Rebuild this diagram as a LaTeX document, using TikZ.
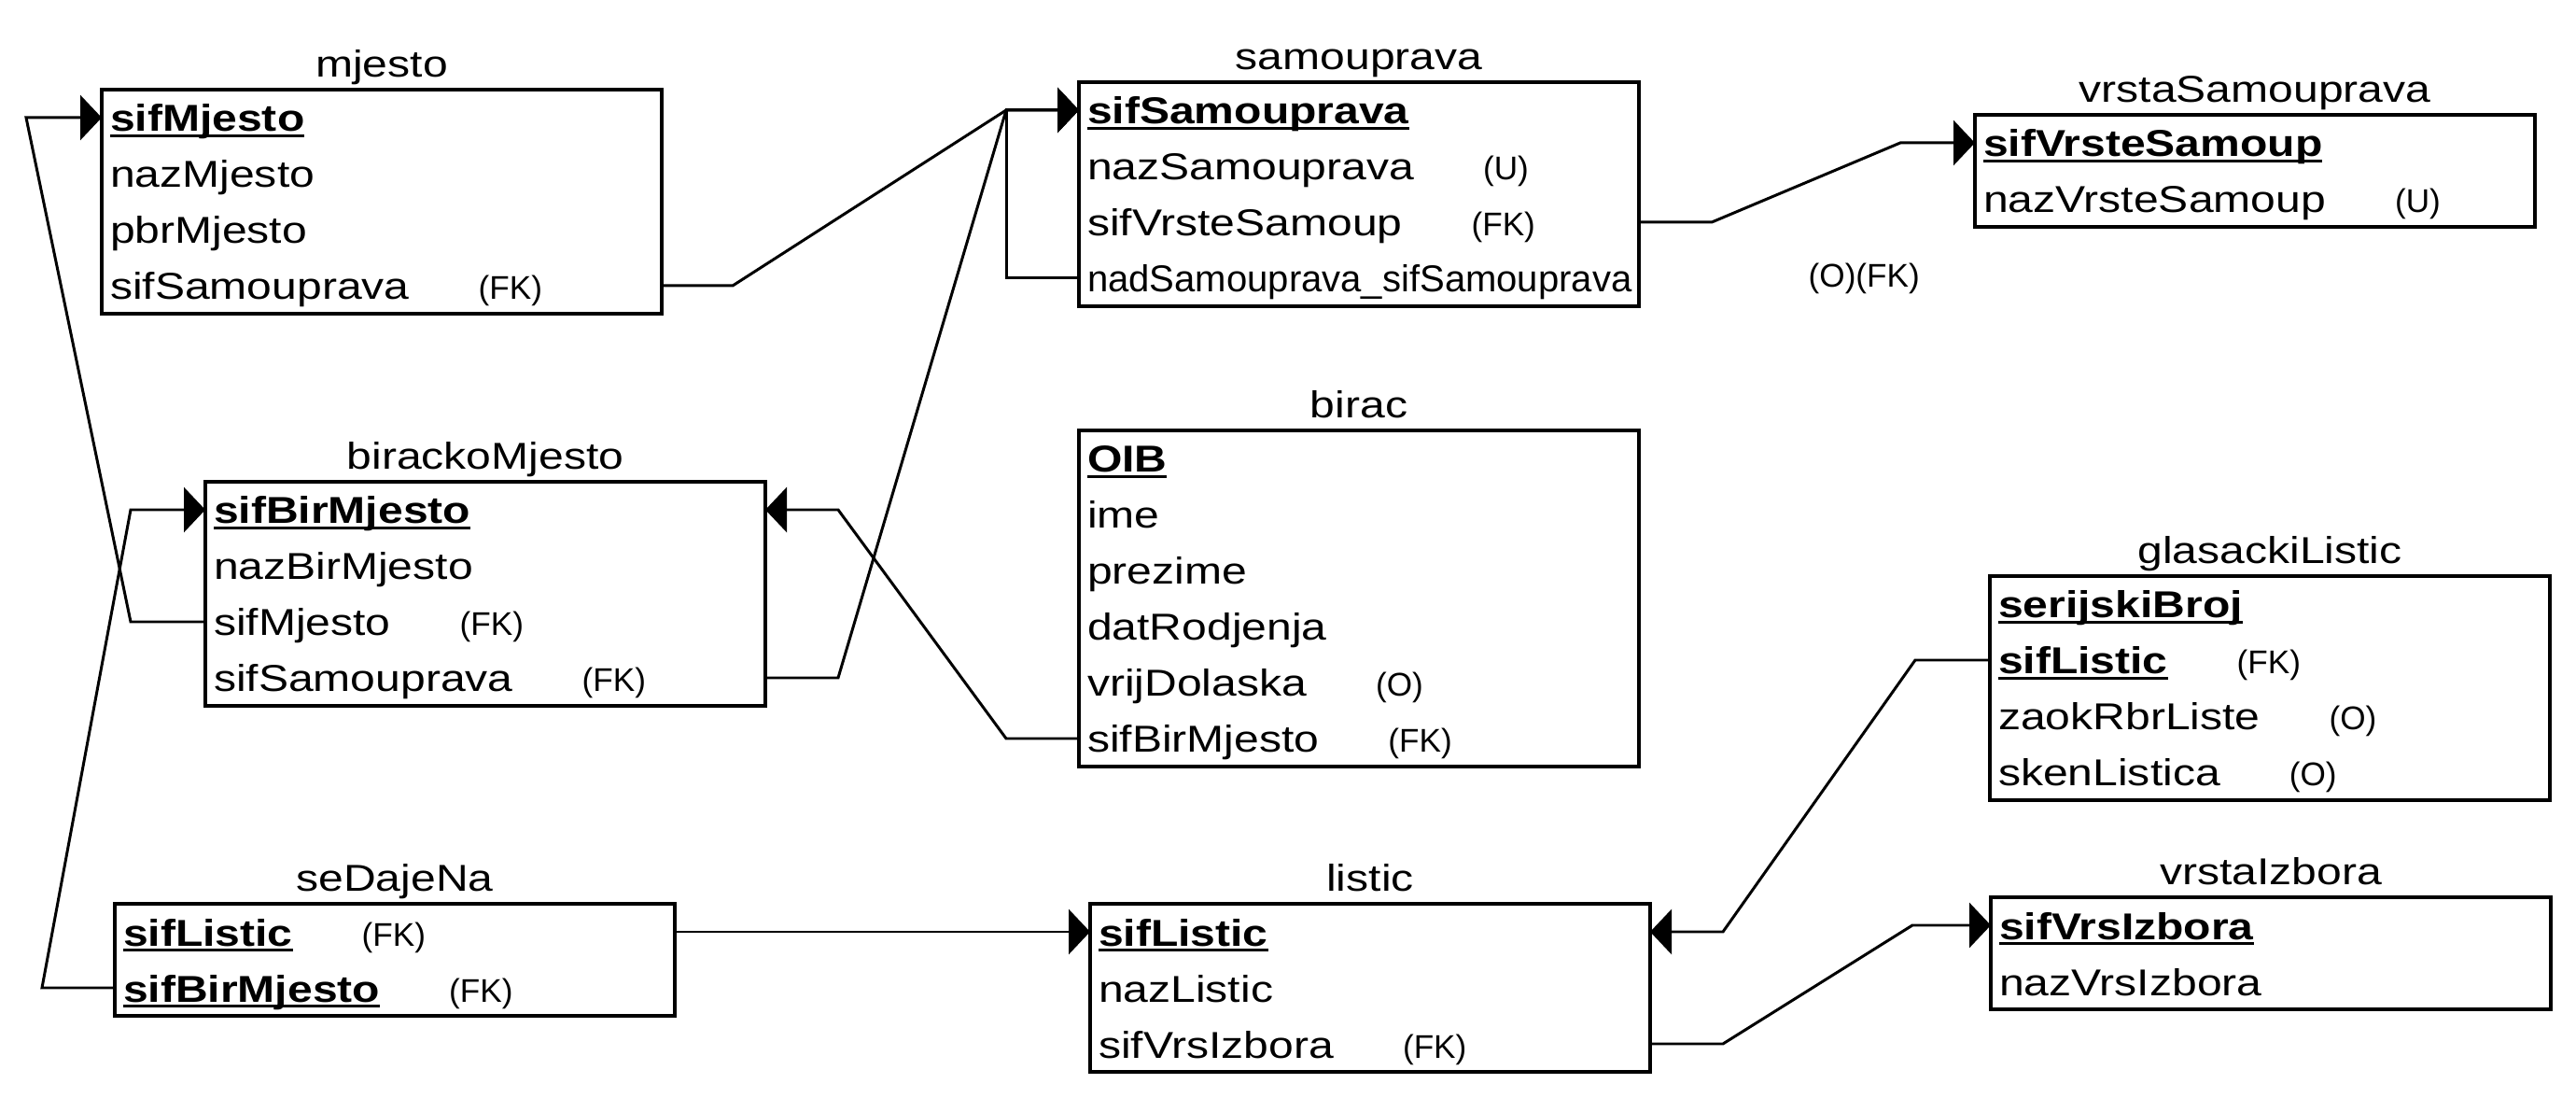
\documentclass[tikz,border=0pt]{standalone}
\usepackage{fontspec}
\setmainfont[FakeStretch=1.2]{Liberation Sans}
\newfontfamily\tagfont{Liberation Sans}
\newfontfamily\longfont[FakeStretch=1.0]{Liberation Sans}
\usepackage{tikz}
\usetikzlibrary{arrows.meta, positioning, fit}

\newlength{\pkwidth}
\newcommand{\pk}[1]{\settowidth{\pkwidth}{\textbf{#1}}\textbf{#1}\llap{\rule[-1.8pt]{\pkwidth}{0.85pt}}}
\newcommand{\tg}[1]{\hspace{7.4mm}{\tagfont\fontsize{10}{12}\selectfont #1}}

\begin{document}
\begin{tikzpicture}[
    font=\fontsize{11.4}{13}\selectfont,
    node distance=0pt,
    row/.style={
      inner xsep=0.9mm,
      inner ysep=0pt,
      outer sep=0pt,
      text width=58.2mm,
      minimum height=6mm,
      text height=3.4mm,
      text depth=0.4mm,
      align=left
    },
    tbl/.style={
      draw,
      line width=0.9pt,
      inner sep=0pt
    },
    title/.style={
      anchor=base,
      inner sep=0pt
    },
    tag/.style={
      font=\tagfont\fontsize{10}{12}\selectfont,
      inner sep=0pt,
      anchor=west
    },
    rel/.style={
      -{Triangle[length=2.3mm, width=4.8mm]},
      line width=0.85pt
    }
  ]
    \useasboundingbox (0,0) rectangle (27.6,-11.76);

    % mjesto
    \node[row, anchor=north west] (mjesto1) at (1.09,-0.96) {\pk{sifMjesto}};
    \node[row, below=of mjesto1] (mjesto2) {nazMjesto};
    \node[row, below=of mjesto2] (mjesto3) {pbrMjesto};
    \node[row, below=of mjesto3] (mjesto4) {sifSamouprava\tg{(FK)}};
    \node[tbl, fit=(mjesto1)(mjesto4)] (mjesto) {};
    \node[title] at ([yshift=1.2mm]mjesto.north) {mjesto};

    % samouprava
    \node[row, anchor=north west] (samouprava1) at (11.56,-0.88) {\pk{sifSamouprava}};
    \node[row, below=of samouprava1] (samouprava2) {nazSamouprava\tg{(U)}};
    \node[row, below=of samouprava2] (samouprava3) {sifVrsteSamoup\tg{(FK)}};
    \node[row, below=of samouprava3] (samouprava4) {{\longfont nadSamouprava\_sifSamouprava}};
    \node[tbl, fit=(samouprava1)(samouprava4)] (samouprava) {};
    \node[title] at ([yshift=1.2mm]samouprava.north) {samouprava};
    \node[tag] (nadtag) at ([xshift=18.1mm]samouprava4.east) {(O)(FK)};

    % vrstaSamouprava
    \node[row, anchor=north west] (vrstaSam1) at (21.16,-1.23) {\pk{sifVrsteSamoup}};
    \node[row, below=of vrstaSam1] (vrstaSam2) {nazVrsteSamoup\tg{(U)}};
    \node[tbl, fit=(vrstaSam1)(vrstaSam2)] (vrstaSam) {};
    \node[title] at ([yshift=1.2mm]vrstaSam.north) {vrstaSamouprava};

    % birackoMjesto
    \node[row, anchor=north west] (biracko1) at (2.20,-5.16) {\pk{sifBirMjesto}};
    \node[row, below=of biracko1] (biracko2) {nazBirMjesto};
    \node[row, below=of biracko2] (biracko3) {sifMjesto\tg{(FK)}};
    \node[row, below=of biracko3] (biracko4) {sifSamouprava\tg{(FK)}};
    \node[tbl, fit=(biracko1)(biracko4)] (biracko) {};
    \node[title] at ([yshift=1.2mm]biracko.north) {birackoMjesto};

    % birac
    \node[row, anchor=north west] (birac1) at (11.56,-4.61) {\pk{OIB}};
    \node[row, below=of birac1] (birac2) {ime};
    \node[row, below=of birac2] (birac3) {prezime};
    \node[row, below=of birac3] (birac4) {datRodjenja};
    \node[row, below=of birac4] (birac5) {vrijDolaska\tg{(O)}};
    \node[row, below=of birac5] (birac6) {sifBirMjesto\tg{(FK)}};
    \node[tbl, fit=(birac1)(birac6)] (birac) {};
    \node[title] at ([yshift=1.2mm]birac.north) {birac};

    % glasackiListic
    \node[row, anchor=north west] (glasacki1) at (21.32,-6.17) {\pk{serijskiBroj}};
    \node[row, below=of glasacki1] (glasacki2) {\pk{sifListic}\tg{(FK)}};
    \node[row, below=of glasacki2] (glasacki3) {zaokRbrListe\tg{(O)}};
    \node[row, below=of glasacki3] (glasacki4) {skenListica\tg{(O)}};
    \node[tbl, fit=(glasacki1)(glasacki4)] (glasacki) {};
    \node[title] at ([yshift=1.2mm]glasacki.north) {glasackiListic};

    % seDajeNa
    \node[row, anchor=north west] (sedaje1) at (1.23,-9.68) {\pk{sifListic}\tg{(FK)}};
    \node[row, below=of sedaje1] (sedaje2) {\pk{sifBirMjesto}\tg{(FK)}};
    \node[tbl, fit=(sedaje1)(sedaje2)] (sedaje) {};
    \node[title] at ([yshift=1.2mm]sedaje.north) {seDajeNa};

    % listic
    \node[row, anchor=north west] (listic1) at (11.68,-9.68) {\pk{sifListic}};
    \node[row, below=of listic1] (listic2) {nazListic};
    \node[row, below=of listic2] (listic3) {sifVrsIzbora\tg{(FK)}};
    \node[tbl, fit=(listic1)(listic3)] (listic) {};
    \node[title] at ([yshift=1.2mm]listic.north) {listic};

    % vrstaIzbora
    \node[row, anchor=north west] (vrstaIzb1) at (21.33,-9.61) {\pk{sifVrsIzbora}};
    \node[row, below=of vrstaIzb1] (vrstaIzb2) {nazVrsIzbora};
    \node[tbl, fit=(vrstaIzb1)(vrstaIzb2)] (vrstaIzb) {};
    \node[title] at ([yshift=1.2mm]vrstaIzb.north) {vrstaIzbora};

    % Relationships
    \draw[rel] (mjesto4.east) -- ++(0.76,0) -- ([xshift=-7.8mm]samouprava1.west) -- (samouprava1.west);
    \draw[rel] (samouprava4.west) -- ++(-0.78,0) |- (samouprava1.west);
    \draw[rel] (biracko4.east) -- ++(0.78,0) -- ([xshift=-7.8mm]samouprava1.west) -- (samouprava1.west);
    \draw[rel] (samouprava3.east) -- ++(0.78,0) -- ([xshift=-8mm]vrstaSam1.west) -- (vrstaSam1.west);
    \draw[rel] (biracko3.west) -- ++(-0.8,0) -- ([xshift=-8.1mm]mjesto1.west) -- (mjesto1.west);
    \draw[rel] (sedaje2.west) -- ++(-0.78,0) -- ([xshift=-8mm]biracko1.west) -- (biracko1.west);
    \draw[rel] (birac6.west) -- ++(-0.78,0) -- ([xshift=7.8mm]biracko1.east) -- (biracko1.east);
    \draw[rel] (sedaje1.east) -- (listic1.west);
    \draw[rel] (glasacki2.west) -- ++(-0.8,0) -- ([xshift=7.8mm]listic1.east) -- (listic1.east);
    \draw[rel] (listic3.east) -- ++(0.78,0) -- ([xshift=-8.4mm]vrstaIzb1.west) -- (vrstaIzb1.west);

\end{tikzpicture}
\end{document}
